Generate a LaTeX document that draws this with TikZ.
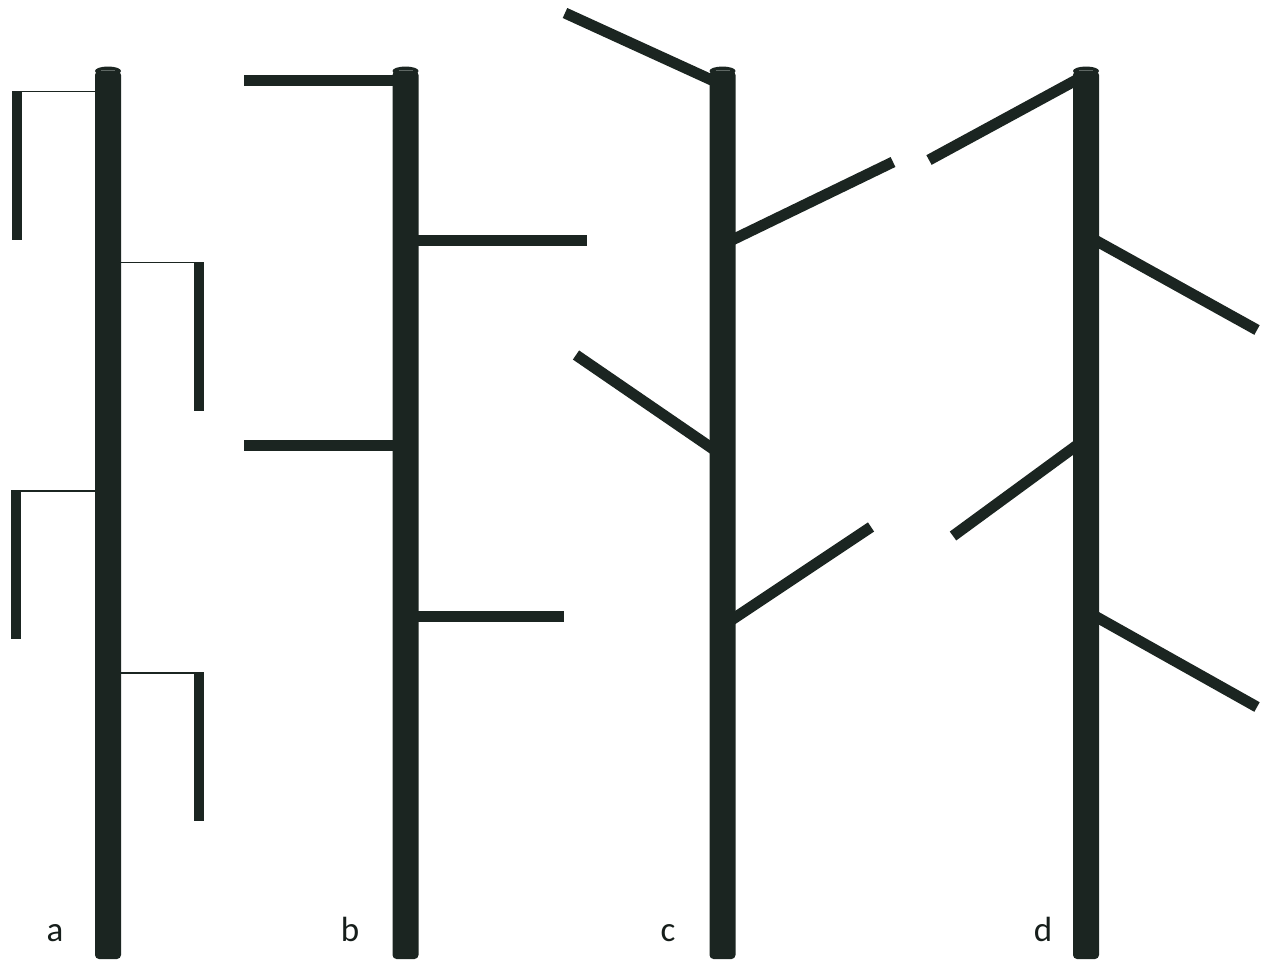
\documentclass[tikz,border=0pt]{standalone}
\usepackage{fontspec}
\setmainfont{Carlito}
\definecolor{pole}{RGB}{27,37,33}
\definecolor{rim}{RGB}{95,104,100}
\tikzset{
  polebody/.style={fill=pole, draw=none},
  branch/.style={draw=pole, line width=11pt, line cap=butt},
  wire/.style={draw=pole, line width=1.8pt},
  hanger/.style={fill=pole, draw=none},
  lab/.style={font=\fontsize{35}{40}\selectfont, text=pole!80!black, anchor=base, inner sep=0pt}
}
\newcommand{\drawpole}[2]{%
  % #1 = center x, #2 = name
  \coordinate (#2top) at (#1,71);
  \fill[pole, rounded corners=4pt] (#1-13,71) rectangle (#1+13,959);
  \fill[pole] (#1,71) ellipse [x radius=13, y radius=4.5];
  \draw[rim, line width=0.9pt] (#1-7,70.5) -- (#1+7,70.5);
}
\begin{document}
\begin{tikzpicture}[x=1pt,y=-1pt]
\useasboundingbox (0,0) rectangle (1261,962);
\fill[white] (0,0) rectangle (1261,962);

% ---------- a ----------
\coordinate (a1) at (108,91.5);
\coordinate (a1e) at (12,91.5);
\coordinate (a2) at (108,262.5);
\coordinate (a2e) at (204,262.5);
\coordinate (a3) at (108,491);
\coordinate (a3e) at (11,491);
\coordinate (a4) at (108,673);
\coordinate (a4e) at (204,673);
\draw[wire] (a1) -- (a1e);
\draw[wire] (a2) -- (a2e);
\draw[wire] (a3) -- (a3e);
\draw[wire] (a4) -- (a4e);
\fill[hanger] (11.5,90.5) rectangle (21.5,240);
\fill[hanger] (194,261.5) rectangle (204,411);
\fill[hanger] (11,490) rectangle (21,639);
\fill[hanger] (194,672) rectangle (204,821);
\drawpole{108}{pa}

% ---------- b ----------
\coordinate (b1) at (405,80);
\coordinate (b1e) at (244,80);
\coordinate (b2) at (405,240.5);
\coordinate (b2e) at (587,240.5);
\coordinate (b3) at (405,445);
\coordinate (b3e) at (244,445);
\coordinate (b4) at (405,616);
\coordinate (b4e) at (564,616);
\draw[branch] (b1) -- (b1e);
\draw[branch] (b2) -- (b2e);
\draw[branch] (b3) -- (b3e);
\draw[branch] (b4) -- (b4e);
\drawpole{405.5}{pb}

% ---------- c ----------
\coordinate (c1) at (716,82);
\coordinate (c1e) at (565,13);
\coordinate (c2) at (730,241);
\coordinate (c2e) at (893,162);
\coordinate (c3) at (716,451);
\coordinate (c3e) at (576,355);
\coordinate (c4) at (730,621);
\coordinate (c4e) at (871,527);
\draw[branch] (c1) -- (c1e);
\draw[branch] (c2) -- (c2e);
\draw[branch] (c3) -- (c3e);
\draw[branch] (c4) -- (c4e);
\drawpole{722.5}{pc}

% ---------- d ----------
\coordinate (d1) at (1080,78);
\coordinate (d1e) at (929,160);
\coordinate (d2) at (1093,239);
\coordinate (d2e) at (1257,330);
\coordinate (d3) at (1080,443);
\coordinate (d3e) at (953,536);
\coordinate (d4) at (1093,615);
\coordinate (d4e) at (1257,707);
\draw[branch] (d1) -- (d1e);
\draw[branch] (d2) -- (d2e);
\draw[branch] (d3) -- (d3e);
\draw[branch] (d4) -- (d4e);
\drawpole{1086}{pd}

% ---------- labels ----------
\node[lab] (la) at (55,941) {a};
\node[lab] (lb) at (350,941) {b};
\node[lab] (lc) at (668,941) {c};
\node[lab] (ld) at (1043,941) {d};
\end{tikzpicture}
\end{document}
